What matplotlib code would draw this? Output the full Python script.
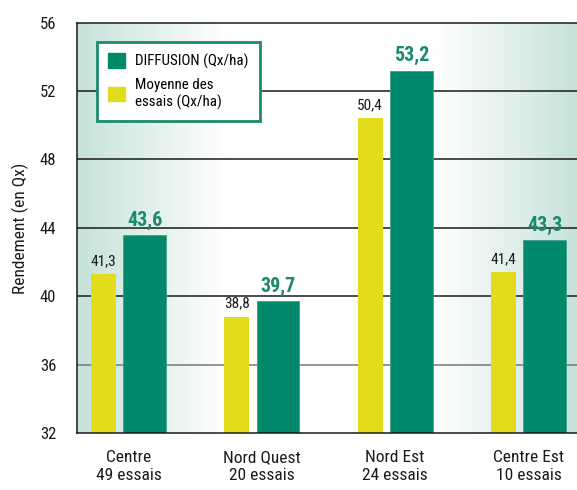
import matplotlib.pyplot as plt
import numpy as np
from matplotlib import font_manager
from matplotlib.patches import Patch
from matplotlib.colors import to_rgb

# data
regions = ["Centre\n49 essais", "Nord Quest\n20 essais", "Nord Est\n24 essais", "Centre Est\n10 essais"]
moyenne = [41.3, 38.8, 50.4, 41.4]
diffusion = [43.6, 39.7, 53.2, 43.3]
y_ticks = [32, 36, 40, 44, 48, 52, 56]

GREEN = "#00896b"
YELLOW = "#e2dc1c"
TEAL_BG = "#c6e2da"
LABEL_GREEN = "#1b8a6d"


def pick_font(names):
    for name in names:
        try:
            font_manager.findfont(name, fallback_to_default=False)
            return name
        except ValueError:
            continue
    return "DejaVu Sans"


font = pick_font(["Liberation Sans Narrow", "Roboto Condensed", "Open Sans Condensed", "Roboto", "Lato"])
plt.rcParams["font.family"] = [font, "DejaVu Sans"]

fig = plt.figure(figsize=(5.77, 4.90), dpi=100)
ax = fig.add_axes([0.1334, 0.1163, 0.8666, 0.8374])

x = np.arange(len(regions))
w_y, w_g = 0.1875, 0.32
x_yellow = x - 0.1875
x_green = x + 0.12125

# background gradient: teal at the edges, white in the middle
t = np.linspace(0, 1, 600)
fade = np.clip(np.maximum((0.296 - t) / 0.296, (t - 0.716) / 0.284), 0, 1)
c0 = np.array(to_rgb(TEAL_BG))
grad = 1 - fade[:, None] * (1 - c0)[None, :]
ax.imshow(grad[None, :, :], extent=[0, 1, 0, 1], transform=ax.transAxes,
          aspect="auto", zorder=0)

# grid lines
for v in y_ticks[1:-1]:
    ax.axhline(v, color="#777777" if v == 36 else "#1a1a1a", lw=1.1, zorder=1)

ax.bar(x_yellow, moyenne, width=w_y, bottom=0, color=YELLOW, zorder=2)
ax.bar(x_green, diffusion, width=w_g, bottom=0, color=GREEN,
       edgecolor="#3ea088", linewidth=0.6, zorder=2)

for xi, v in zip(x_yellow, moyenne):
    ax.text(xi, v + 0.35, f"{v:.1f}".replace(".", ","), ha="center", va="bottom",
            fontsize=11, color="#1a1a1a", zorder=3)
for xi, v in zip(x_green, diffusion):
    ax.text(xi, v + 0.3, f"{v:.1f}".replace(".", ","), ha="center", va="bottom",
            fontsize=14.5, fontweight="bold", color=LABEL_GREEN, zorder=3)

ax.set_ylim(32, 56)
ax.set_xlim(-0.386, 3.364)
ax.set_yticks(y_ticks)
ax.set_yticklabels([str(v) for v in y_ticks], fontsize=12)
ax.set_xticks(x)
ax.set_xticklabels(regions, fontsize=12.5, linespacing=1.25)
ax.tick_params(axis="both", length=0, colors="#1a1a1a")
ax.tick_params(axis="y", pad=15)
ax.tick_params(axis="x", pad=12)
ax.set_ylabel("Rendement (en Qx)", fontsize=12.5, labelpad=8, color="#1a1a1a")

for s in ["left", "bottom", "top"]:
    ax.spines[s].set_color("#1a1a1a")
    ax.spines[s].set_linewidth(1.1)
ax.spines["right"].set_visible(False)

handles = [Patch(facecolor=GREEN, edgecolor=GREEN),
           Patch(facecolor=YELLOW, edgecolor=YELLOW)]
leg = ax.legend(handles, ["DIFFUSION (Qx/ha)", "Moyenne des\nessais (Qx/ha)"],
                loc="upper left", bbox_to_anchor=(0.04, 0.953),
                fontsize=10.8, frameon=True, fancybox=False,
                handlelength=1.1, handleheight=1.1, handletextpad=0.7,
                labelspacing=0.6, borderpad=0.75, borderaxespad=0)
leg.get_frame().set_edgecolor(LABEL_GREEN)
leg.get_frame().set_linewidth(2)
leg.get_frame().set_facecolor("white")
leg.get_frame().set_alpha(1)
leg.set_zorder(5)

fig.savefig("out.png", dpi=100)
